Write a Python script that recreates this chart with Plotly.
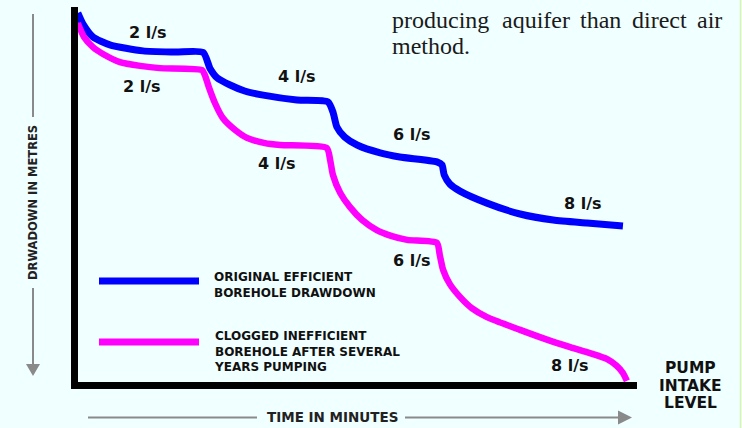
import plotly.graph_objects as go

W, H = 742, 428

# ---- data (time in relative minutes, drawdown in relative metres) ----
blue_t = [0.5, 1.4, 3.2, 6.2, 12.1, 17.8, 22.8, 24.0, 25.3, 27.6, 30.2, 33.5, 39.5, 45.0,
          45.9, 46.6, 48.0, 50.2, 54.3, 57.8, 64.4, 65.3, 65.7, 66.7, 68.5, 73.3, 79.2,
          85.1, 91.1, 97.5]
blue_d = [0.8, 3.7, 7.2, 9.3, 10.9, 11.2, 11.3, 15.5, 18.1, 20.0, 21.6, 22.7, 24.0, 24.5,
          27.2, 31.2, 33.9, 36.0, 38.1, 39.2, 40.5, 41.3, 44.0, 46.4, 48.3, 51.5, 54.4,
          56.0, 56.8, 57.6]

mag_t = [0.5, 1.6, 3.2, 5.3, 8.0, 11.6, 15.1, 22.6, 23.1, 23.8, 24.9, 26.3, 28.5, 30.6,
         33.8, 36.5, 44.8, 45.4, 45.9, 47.2, 48.9, 51.1, 53.7, 56.4, 59.1, 64.4, 64.9,
         65.5, 66.7, 68.5, 70.6, 73.3, 79.2, 83.6, 88.1, 91.6, 94.7, 96.4, 97.5, 98.2]
mag_d = [3.5, 7.2, 9.9, 12.0, 13.9, 14.9, 15.5, 16.0, 17.3, 20.5, 24.8, 28.8, 32.0, 34.1,
         35.5, 36.0, 36.8, 40.0, 44.0, 48.8, 52.5, 56.0, 58.7, 60.3, 61.3, 62.1, 65.3,
         69.3, 73.1, 76.5, 79.5, 81.9, 85.3, 87.7, 89.9, 91.5, 93.1, 94.9, 96.8, 98.9]

rate_labels = ["2 l/s", "4 l/s", "6 l/s", "8 l/s"]
blue_label_t = [12.97, 39.5, 59.96, 90.4]
blue_label_d = [6.1, 17.6, 33.3, 51.5]
mag_label_t = [11.9, 35.9, 59.96, 88.1]
mag_label_d = [20.5, 40.8, 66.7, 94.9]

legend_texts = ["ORIGINAL EFFICIENT<br>BOREHOLE DRAWDOWN",
                "CLOGGED INEFFICIENT<br>BOREHOLE AFTER SEVERAL<br>YEARS PUMPING"]

# pixel <-> axis mapping helpers (layout only)
X0, XS = 75.0, 5.62
Y0, YS = 10.0, 3.75
xr = [(0 - X0) / XS, (W - X0) / XS]
yr = [(H - Y0) / YS, (0 - Y0) / YS]


def px(x):
    return x / W


def py(y):
    return 1 - y / H


fig = go.Figure()
fig.add_trace(go.Scatter(x=blue_t, y=blue_d, mode="lines",
                         line=dict(color="#0000FF", width=7, shape="spline", smoothing=0.6),
                         hoverinfo="skip"))
fig.add_trace(go.Scatter(x=mag_t, y=mag_d, mode="lines",
                         line=dict(color="#FF00FF", width=6.5, shape="spline", smoothing=0.6),
                         hoverinfo="skip"))

BOLD = "DejaVu Sans"
ann = []


def note(x, y, text, size, family=BOLD, color="#111", xanchor="center", yanchor="middle",
         align="center", ref="paper", angle=0):
    ann.append(dict(x=x, y=y, xref=ref if ref == "paper" else "x",
                    yref=ref if ref == "paper" else "y", text=text, showarrow=False,
                    xanchor=xanchor, yanchor=yanchor, align=align, textangle=angle,
                    font=dict(family=family, size=size, color=color)))


for lab, t, d in zip(rate_labels, blue_label_t, blue_label_d):
    note(t, d, f"<b>{lab}</b>", 16, ref="data")
for lab, t, d in zip(rate_labels, mag_label_t, mag_label_d):
    note(t, d, f"<b>{lab}</b>", 16, ref="data")

# legend texts
note(px(212), py(284.5), f"<b>{legend_texts[0]}</b>", 12, xanchor="left", align="left")
note(px(212), py(351.5), f"<b>{legend_texts[1]}</b>", 12, xanchor="left", align="left")

# pump intake level
for txt, yy in zip(["PUMP", "INTAKE", "LEVEL"], [368, 386, 403]):
    note(px(690), py(yy), f"<b>{txt}</b>", 15.5)

# axis titles
note(px(332), py(417), "<b>TIME IN MINUTES</b>", 13.5, color="#222")
note(px(33), py(203), "<b>DRWADOWN IN METRES</b>", 11.5, color="#222", angle=-90)

# serif paragraph fragment (justified words)
words1 = ["producing", "aquifer", "than", "direct", "air"]
words1_x = [390, 500, 578, 630, 695]
for w_, xx in zip(words1, words1_x):
    note(px(xx), py(20.5), w_, 24, family="Liberation Serif", color="#1a1a1a", xanchor="left")
note(px(390), py(45.5), "method.", 24, family="Liberation Serif", color="#1a1a1a", xanchor="left")

GRAY = "#8a8a8a"
shapes = [
    # axes
    dict(type="rect", xref="paper", yref="paper", x0=px(71), x1=px(78), y0=py(7), y1=py(389),
         fillcolor="black", line=dict(width=0)),
    dict(type="rect", xref="paper", yref="paper", x0=px(71), x1=px(637), y0=py(382), y1=py(389),
         fillcolor="black", line=dict(width=0)),
    # legend samples
    dict(type="line", xref="paper", yref="paper", x0=px(99), x1=px(199), y0=py(281), y1=py(281),
         line=dict(color="#0000FF", width=7)),
    dict(type="line", xref="paper", yref="paper", x0=px(99), x1=px(199), y0=py(342), y1=py(342),
         line=dict(color="#FF00FF", width=7)),
    # vertical gray arrow
    dict(type="line", xref="paper", yref="paper", x0=px(33), x1=px(33), y0=py(14), y1=py(117),
         line=dict(color=GRAY, width=2)),
    dict(type="line", xref="paper", yref="paper", x0=px(33), x1=px(33), y0=py(288), y1=py(366),
         line=dict(color=GRAY, width=2)),
    dict(type="path", xref="paper", yref="paper",
         path=f"M {px(26)},{py(364)} L {px(40)},{py(364)} L {px(33)},{py(376)} Z",
         fillcolor=GRAY, line=dict(width=0)),
    # horizontal gray arrow
    dict(type="line", xref="paper", yref="paper", x0=px(88), x1=px(257), y0=py(417.5), y1=py(417.5),
         line=dict(color=GRAY, width=2)),
    dict(type="line", xref="paper", yref="paper", x0=px(405), x1=px(622), y0=py(417.5), y1=py(417.5),
         line=dict(color=GRAY, width=2)),
    dict(type="path", xref="paper", yref="paper",
         path=f"M {px(618)},{py(410.5)} L {px(632)},{py(417.5)} L {px(618)},{py(424.5)} Z",
         fillcolor=GRAY, line=dict(width=0)),
    # right edge line
    dict(type="line", xref="paper", yref="paper", x0=px(740.5), x1=px(740.5), y0=0, y1=1,
         line=dict(color="#d6f5b0", width=1.5)),
]

fig.update_layout(
    width=W, height=H,
    margin=dict(l=0, r=0, t=0, b=0),
    paper_bgcolor="#F0FFFF", plot_bgcolor="#F0FFFF",
    showlegend=False,
    xaxis=dict(range=xr, visible=False, fixedrange=True),
    yaxis=dict(range=yr, visible=False, fixedrange=True),
    annotations=ann, shapes=shapes,
)

fig.write_html("out.html", config={"displayModeBar": False},
               post_script="document.body.style.margin='0';document.body.style.overflow='hidden';")
